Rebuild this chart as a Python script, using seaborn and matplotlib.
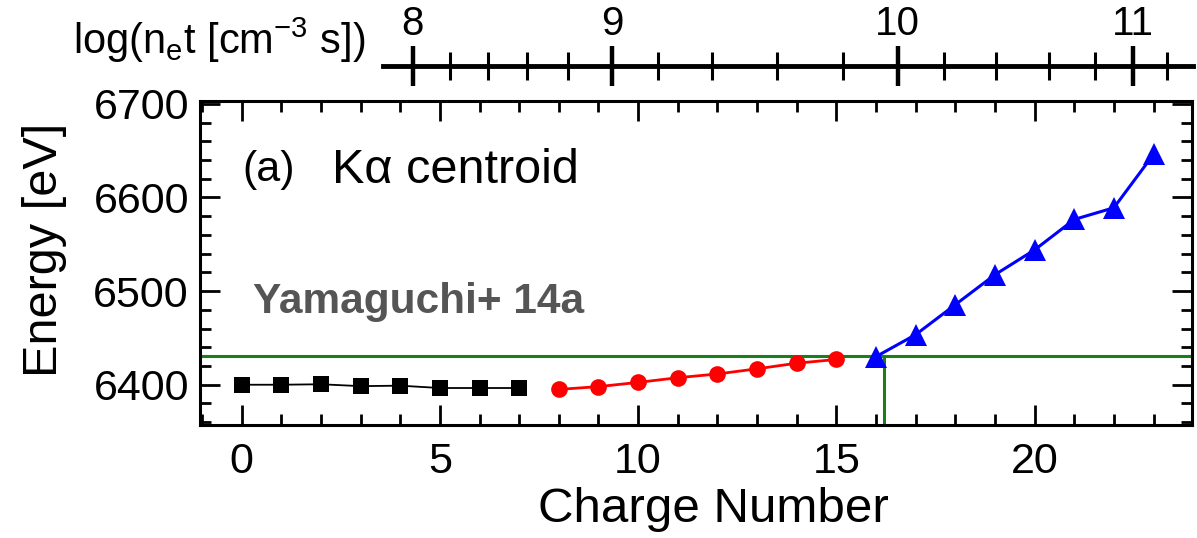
import numpy as np
import pandas as pd
import matplotlib
matplotlib.use("Agg")
import matplotlib.pyplot as plt
import seaborn as sns
from matplotlib.ticker import MultipleLocator

sns.set_theme(style="ticks")
plt.rcParams["font.family"] = ["Liberation Sans", "DejaVu Sans"]
plt.rcParams["mathtext.fontset"] = "custom"
plt.rcParams["mathtext.rm"] = "Liberation Sans"
plt.rcParams["mathtext.it"] = "Liberation Sans:italic"
for k in ["text.color", "axes.labelcolor", "xtick.color", "ytick.color",
          "axes.edgecolor", "xtick.labelcolor", "ytick.labelcolor"]:
    plt.rcParams[k] = "black"

# ---- data ----
charge_low = [0, 1, 2, 3, 4, 5, 6, 7]
energy_low = [6400.0, 6400.0, 6400.5, 6398.5, 6399.0, 6396.5, 6396.5, 6396.5]
charge_mid = [8, 9, 10, 11, 12, 13, 14, 15]
energy_mid = [6395.0, 6398.0, 6402.5, 6407.5, 6411.5, 6417.0, 6423.0, 6427.0]
charge_high = [16, 17, 18, 19, 20, 21, 22, 23]
energy_high = [6430.0, 6453.5, 6485.5, 6517.5, 6544.0, 6576.5, 6589.0, 6646.0]

threshold_energy = 6431.0
threshold_charge = 16.2

# top axis: log(n_e t) values and their corresponding charge number
lognet_major = [8, 9, 10, 11]
lognet_major_charge = [4.32, 9.34, 16.55, 22.49]
lognet_minor_charge = [5.26, 6.22, 7.19, 8.23, 10.51, 11.87, 13.50, 15.16,
                       17.72, 19.03, 20.36, 21.53, 23.33]
lognet_axis_range = (3.57, 23.99)

df = pd.concat([
    pd.DataFrame({"charge": charge_low, "energy": energy_low, "grp": "low"}),
    pd.DataFrame({"charge": charge_mid, "energy": energy_mid, "grp": "mid"}),
    pd.DataFrame({"charge": charge_high, "energy": energy_high, "grp": "high"}),
])

W, H = 1197, 538
fig = plt.figure(figsize=(W / 100, H / 100), dpi=100)
L, R, B, T = 200 / W, 1192 / W, 1 - 425 / H, 1 - 101 / H
ax = fig.add_axes([L, B, R - L, T - B])

green = "#1a7f1a"
ax.axhline(threshold_energy, color=green, lw=2.2, zorder=1)
ax.vlines(threshold_charge, 6300, threshold_energy, color=green, lw=2.2, zorder=1)

styles = {
    "low": dict(color="black", marker="s", markersize=11.5, linewidth=1.3),
    "mid": dict(color="#ff0000", marker="o", markersize=12, linewidth=2.0),
    "high": dict(color="#0000ff", marker="^", markersize=15.5, linewidth=2.2),
}
for g, st in styles.items():
    sns.lineplot(data=df[df.grp == g], x="charge", y="energy", ax=ax,
                 color=st["color"], marker=st["marker"], markersize=st["markersize"],
                 linewidth=st["linewidth"], markeredgewidth=0, legend=False, zorder=3)

ax.set_xlim(-1.05, 23.97)
ax.set_ylim(6357, 6703)
ax.xaxis.set_major_locator(MultipleLocator(5))
ax.xaxis.set_minor_locator(MultipleLocator(1))
ax.yaxis.set_major_locator(MultipleLocator(100))
ax.yaxis.set_minor_locator(MultipleLocator(20))
ax.tick_params(which="both", direction="in", top=True, right=True, width=2.0,
               color="black", labelsize=31, labelcolor="black")
ax.tick_params(which="major", length=14.5)
ax.tick_params(axis="x", which="major", pad=12)
ax.tick_params(axis="y", which="major", pad=8)
ax.tick_params(which="minor", length=8)
for s in ax.spines.values():
    s.set_linewidth(2.2)
    s.set_color("black")

ax.set_xlabel("Charge Number", fontsize=35.5, color="black")
ax.set_ylabel("Energy [eV]", fontsize=35, color="black")
ax.xaxis.set_label_coords(0.518, -0.19)
ax.yaxis.set_label_coords(-0.134, 0.54)

ax.text(0.043, 0.787, "(a)", transform=ax.transAxes, fontsize=31, va="center", ha="left")
ax.text(0.133, 0.787, "K\u03b1 centroid", transform=ax.transAxes, fontsize=35,
        va="center", ha="left")
ax.text(0.053, 0.38, "Yamaguchi+ 14a", transform=ax.transAxes, fontsize=30.5,
        fontweight="bold", color="#555555", va="center", ha="left")

# ---- top log(n_e t) axis ----
yline = 1 - 66 / H
axt = fig.add_axes([L, yline, R - L, 1e-5])
axt.set_xlim(ax.get_xlim())
axt.set_ylim(0, 1)
axt.patch.set_visible(False)
for k in ["bottom", "left", "right"]:
    axt.spines[k].set_visible(False)
axt.spines["top"].set_linewidth(3.5)
axt.spines["top"].set_color("black")
axt.spines["top"].set_bounds(*lognet_axis_range)
axt.set_yticks([])
axt.xaxis.set_ticks_position("top")
axt.xaxis.set_label_position("top")
axt.set_xticks(lognet_major_charge, [str(v) for v in lognet_major])
axt.set_xticks(lognet_minor_charge, minor=True)
axt.tick_params(which="both", direction="inout", bottom=False, labelbottom=False,
                top=True, labeltop=True, labelsize=29, color="black")
axt.tick_params(which="major", length=29, width=3.2, pad=2)
axt.tick_params(which="minor", length=20, width=2.2)

fig.text(365 / W, 1 - 40 / H, r"log(n$_\mathrm{e}$t [cm$^{-3}$ s])", fontsize=30,
         ha="right", va="center", color="black")

fig.savefig("out.png", dpi=100)
